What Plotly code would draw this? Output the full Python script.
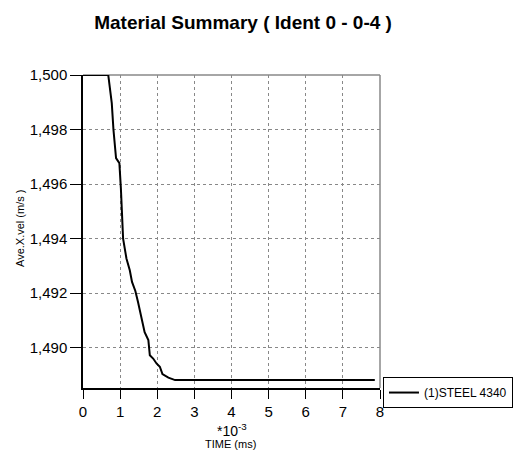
import plotly.graph_objects as go

# Average X velocity of material (1) STEEL 4340 over time (time in units of 1e-3 ms)
time = [0.0, 0.68, 0.775, 0.82, 0.89, 0.98, 1.02, 1.05, 1.08, 1.17, 1.26, 1.32,
        1.41, 1.48, 1.57, 1.66, 1.76, 1.80, 1.89, 1.98, 2.07, 2.14, 2.30, 2.48, 7.86]
ave_x_vel = [1500.0, 1500.0, 1498.97, 1498.0, 1496.95, 1496.77, 1495.85, 1494.95,
             1494.0, 1493.27, 1492.84, 1492.41, 1492.08, 1491.68, 1491.07, 1490.57,
             1490.28, 1489.72, 1489.6, 1489.42, 1489.3, 1489.03, 1488.9, 1488.81, 1488.81]

series_name = "(1)STEEL 4340"
title_text = "Material Summary ( Ident 0 - 0-4 )"
x_ticks = [0, 1, 2, 3, 4, 5, 6, 7, 8]
y_ticks = [1490, 1492, 1494, 1496, 1498, 1500]

FONT = "Liberation Sans, Arial, sans-serif"

fig = go.Figure()
fig.add_trace(go.Scatter(
    x=time, y=ave_x_vel, mode="lines", name=series_name,
    line=dict(color="black", width=2),
))

grid = dict(showgrid=True, gridcolor="#888888", griddash="dot", gridwidth=1)

fig.update_layout(
    width=525, height=456,
    margin=dict(l=83, r=143, t=75, b=68),
    paper_bgcolor="white", plot_bgcolor="white",
    font=dict(family=FONT, color="black"),
    title=dict(text=f"<b>{title_text}</b>", x=0.463, xanchor="center",
               y=0.95, yanchor="middle", font=dict(size=19, family=FONT)),
    showlegend=True,
    legend=dict(x=1.01, xanchor="left", y=0.035, yanchor="top",
                bordercolor="black", borderwidth=1, bgcolor="white",
                font=dict(size=12, family=FONT), tracegroupgap=0),
    xaxis=dict(range=[0, 8], tickvals=x_ticks, ticks="outside", ticklen=9,
               tickcolor="black", showline=True, linecolor="black", linewidth=1.5,
               tickfont=dict(size=15), zeroline=False, **grid),
    yaxis=dict(range=[1488.52, 1500], tickvals=y_ticks, tickformat=",d",
               ticks="outside", ticklen=11, tickcolor="black", showline=True,
               linecolor="black", linewidth=1.5, tickfont=dict(size=15),
               zeroline=False, **grid),
)

# Gray frame on the top and right edges of the plotting area
fig.add_shape(type="line", xref="paper", yref="paper", x0=0, x1=1, y0=1, y1=1,
              line=dict(color="#888888", width=1.5), layer="below")
fig.add_shape(type="line", xref="paper", yref="paper", x0=1, x1=1, y0=0, y1=1,
              line=dict(color="#888888", width=1.5), layer="below")

# Axis titles
fig.add_annotation(text="*10<sup>-3</sup>", xref="paper", yref="paper",
                   x=0.5, y=-0.135, xanchor="center", yanchor="middle",
                   showarrow=False, font=dict(size=14, family=FONT))
fig.add_annotation(text="TIME (ms)", xref="paper", yref="paper",
                   x=0.495, y=-0.18, xanchor="center", yanchor="middle",
                   showarrow=False, font=dict(size=11, family=FONT))
fig.add_annotation(text="Ave.X.vel (m/s )", xref="paper", yref="paper",
                   x=-0.21, y=0.51, xanchor="center", yanchor="middle",
                   textangle=-90, showarrow=False, font=dict(size=11, family=FONT))

fig.write_html("out.html")
